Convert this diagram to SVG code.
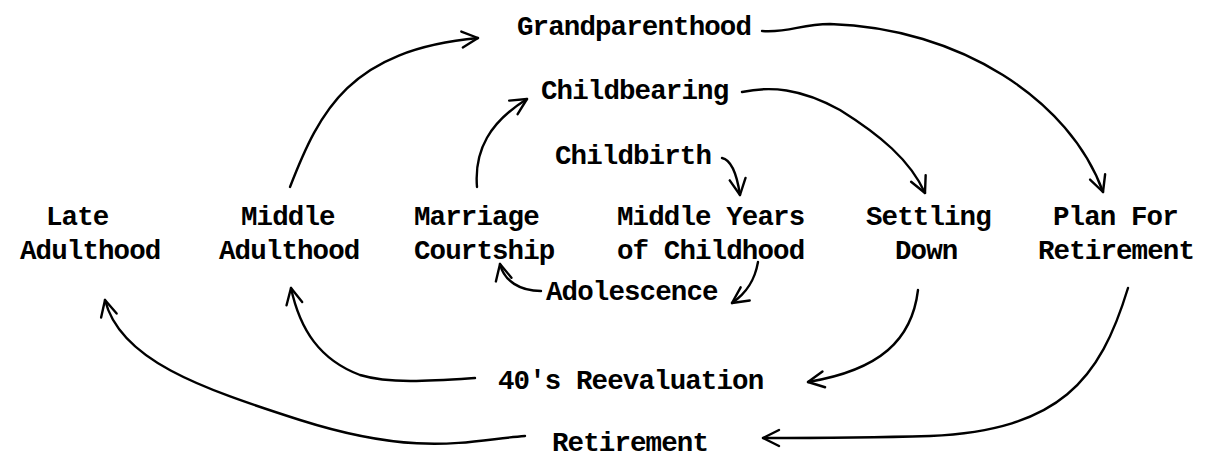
<svg xmlns="http://www.w3.org/2000/svg" width="1213" height="459" viewBox="0 0 1213 459">
<style>
  text { font-family: "Liberation Mono", "DejaVu Sans Mono", monospace; font-weight: bold; font-size: 27.5px; letter-spacing: -0.9px; fill: #000; }
  .c { fill: none; stroke: #000; stroke-width: 2.4; stroke-linecap: round; stroke-linejoin: round; }
</style>
<defs>
  <marker id="ah" viewBox="0 0 20 20" refX="18" refY="10" markerWidth="20" markerHeight="20" markerUnits="userSpaceOnUse" orient="auto">
    <path d="M2,2 L18,10 L2,18" fill="none" stroke="#000" stroke-width="2.4" stroke-linecap="round" stroke-linejoin="round"/>
  </marker>
</defs>
<rect width="1213" height="459" fill="#fff"/>
<g id="connectors">
  <path class="c" marker-end="url(#ah)" d="M290,187 C320,110 350,50 478,38"/>
  <path class="c" marker-end="url(#ah)" d="M477,187 C474,150 490,122 527,99"/>
  <path class="c" marker-end="url(#ah)" d="M722,158 C732,160 737,175 740,195"/>
  <path class="c" marker-end="url(#ah)" d="M762,31 C790,33 800,24 830,24 C960,28 1070,100 1103,192"/>
  <path class="c" marker-end="url(#ah)" d="M742,92 C770,86 800,88 840,110 C880,135 910,160 925,193"/>
  <path class="c" marker-end="url(#ah)" d="M758,262 C755,279 748,292 732,303"/>
  <path class="c" marker-end="url(#ah)" d="M541,291 C520,291 504,281 500,264"/>
  <path class="c" marker-end="url(#ah)" d="M918,290 C912,340 880,370 808,382"/>
  <path class="c" marker-end="url(#ah)" d="M475,378 C430,381 390,384 360,375 C320,360 300,330 291,288"/>
  <path class="c" marker-end="url(#ah)" d="M1128,288 C1100,380 1060,430 930,436 C860,438 800,438 763,438"/>
  <path class="c" marker-end="url(#ah)" d="M525,436 C470,440 420,458 300,420 C200,388 120,360 105,300"/>
</g>
<g id="n-grandparenthood"><text x="517" y="35">Grandparenthood</text></g>
<g id="n-childbearing"><text x="541" y="99">Childbearing</text></g>
<g id="n-childbirth"><text x="555" y="164">Childbirth</text></g>
<g id="n-late-adulthood"><text x="46" y="225">Late</text><text x="20" y="259">Adulthood</text></g>
<g id="n-middle-adulthood"><text x="241" y="225">Middle</text><text x="219" y="259">Adulthood</text></g>
<g id="n-marriage-courtship"><text x="414" y="225">Marriage</text><text x="414" y="259">Courtship</text></g>
<g id="n-middle-years"><text x="617" y="225">Middle Years</text><text x="617" y="259">of Childhood</text></g>
<g id="n-settling-down"><text x="866" y="225">Settling</text><text x="895" y="259">Down</text></g>
<g id="n-plan-for-retirement"><text x="1053" y="225">Plan For</text><text x="1038" y="259">Retirement</text></g>
<g id="n-adolescence"><text x="546" y="300">Adolescence</text></g>
<g id="n-40s-reevaluation"><text x="498" y="389">40's Reevaluation</text></g>
<g id="n-retirement"><text x="552" y="451">Retirement</text></g>
</svg>
